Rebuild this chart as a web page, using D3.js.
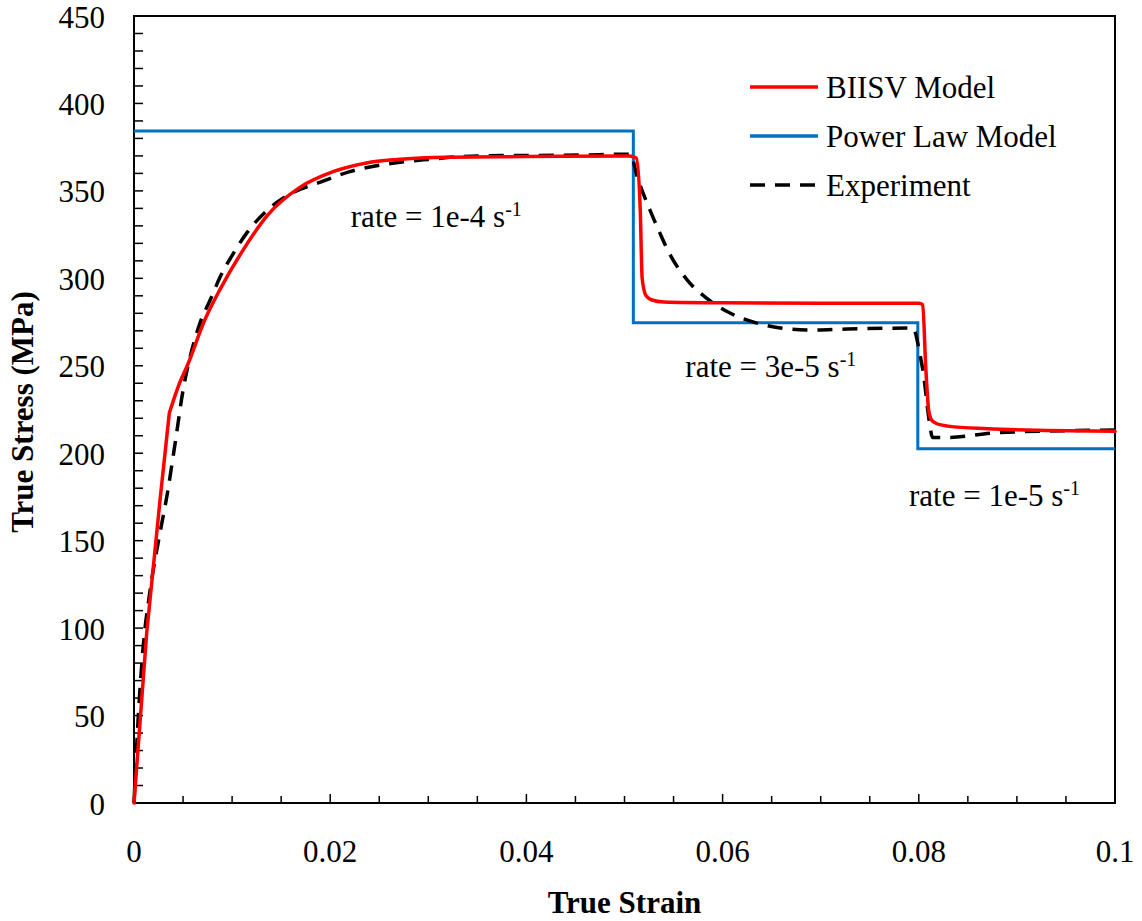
<!DOCTYPE html>
<html>
<head>
<meta charset="utf-8">
<script src="https://cdn.jsdelivr.net/npm/d3@7"></script>
<style>
  body { margin: 0; background: #fff; }
  text { font-family: "Liberation Serif", "Times New Roman", serif; }
</style>
</head>
<body>
<div id="chart"></div>
<script>
// BIISV model (red): elastic ramp, then smooth hardening / rate jumps
var biisvRampStrain = [0, 0.00129, 0.00265, 0.0036];
var biisvRampStress = [0, 97, 173, 223];
var biisvStrain = [0.0036, 0.0045, 0.0055, 0.0072, 0.0088, 0.0111, 0.0136, 0.0169, 0.0203, 0.0237, 0.0268, 0.032, 0.04, 0.0505, 0.0512, 0.0516, 0.0518, 0.0522, 0.0528, 0.054, 0.06, 0.07, 0.08, 0.0804, 0.0807, 0.081, 0.0813, 0.0818, 0.083, 0.087, 0.093, 0.1];
var biisvStress = [223, 238, 251, 276, 294, 316, 336, 352, 361, 366, 368, 369.3, 369.6, 370, 368.8, 340, 300, 290, 287.6, 286.5, 286, 285.8, 285.8, 285, 250, 225, 219, 217, 215.5, 214, 213, 212.5];

// Power law model (blue)
var powerStrain = [0, 0.0509, 0.0509, 0.0799, 0.0799, 0.1];
var powerStress = [384.2, 384.2, 274.6, 274.6, 202.6, 202.6];

// Experiment (black dashed)
var expStrain = [0, 0.0004, 0.0009, 0.0016, 0.0025, 0.0034, 0.0042, 0.005, 0.0059, 0.0067, 0.0078, 0.0088, 0.0101, 0.0115, 0.0136, 0.0162, 0.019, 0.022, 0.0254, 0.03, 0.035, 0.0455, 0.0506, 0.0513, 0.0526, 0.0536, 0.0546, 0.0564, 0.0584, 0.0608, 0.0635, 0.0659, 0.0692, 0.0727, 0.0794, 0.0801, 0.0806, 0.0808, 0.0811, 0.0814, 0.0832, 0.0873, 0.0934, 0.1];
var expStress = [0, 45.7, 87, 120, 150, 177, 206, 236, 259, 274, 288, 301, 314, 326, 339, 349, 355, 361, 365, 368, 370, 370.5, 371, 358, 339, 326, 314, 299, 288.5, 280, 274.4, 271.6, 270.4, 271, 271.6, 257, 240, 230, 217, 209, 209, 211.5, 212.7, 213.3];

var xTicks = [0, 0.02, 0.04, 0.06, 0.08, 0.1];
var xTickLabels = ["0", "0.02", "0.04", "0.06", "0.08", "0.1"];
var yTicks = [0, 50, 100, 150, 200, 250, 300, 350, 400, 450];

var legendNames = ["BIISV Model", "Power Law Model", "Experiment"];
var rateLabels = ["rate = 1e-4 s", "rate = 3e-5 s", "rate = 1e-5 s"];
var rateStrain = [0.0221, 0.0562, 0.0790];
var rateStress = [329.3, 243.6, 169.8];

var width = 1142, height = 921;
var margin = { left: 134, right: 27, top: 16, bottom: 118 };

var svg = d3.select('#chart').append('svg')
  .attr('width', width)
  .attr('height', height);

var x = d3.scaleLinear().domain([0, 0.1]).range([margin.left, width - margin.right]);
var y = d3.scaleLinear().domain([0, 450]).range([height - margin.bottom, margin.top]);

var x0 = x(0), x1 = x(0.1), y0 = y(0), y1 = y(450);

// minor ticks (inside)
var xMinor = d3.range(0, 0.1001, 0.005);
svg.append('g').selectAll('line').data(xMinor).enter().append('line')
  .attr('x1', d => x(d)).attr('x2', d => x(d))
  .attr('y1', y0).attr('y2', (d, i) => y0 - (i % 4 === 0 ? 9 : 7))
  .attr('stroke', '#000').attr('stroke-width', 1.5);

var yMinor = d3.range(0, 451, 10);
svg.append('g').selectAll('line').data(yMinor).enter().append('line')
  .attr('x1', x0).attr('x2', x0 + 9)
  .attr('y1', d => y(d)).attr('y2', d => y(d))
  .attr('stroke', '#000').attr('stroke-width', 1.5);

// frame
svg.append('rect')
  .attr('x', x0).attr('y', y1)
  .attr('width', x1 - x0).attr('height', y0 - y1)
  .attr('fill', 'none').attr('stroke', '#000').attr('stroke-width', 2);

// tick labels
svg.append('g').selectAll('text').data(xTicks).enter().append('text')
  .attr('x', d => x(d)).attr('y', 862)
  .attr('text-anchor', 'middle')
  .attr('font-size', 31)
  .text((d, i) => xTickLabels[i]);

svg.append('g').selectAll('text').data(yTicks).enter().append('text')
  .attr('x', x0 - 29).attr('y', d => y(d) + 11.5)
  .attr('text-anchor', 'end')
  .attr('font-size', 31)
  .text(d => d);

// axis titles
svg.append('text')
  .attr('x', (x0 + x1) / 2).attr('y', 913)
  .attr('text-anchor', 'middle')
  .attr('font-size', 31).attr('font-weight', 'bold')
  .text('True Strain');

svg.append('text')
  .attr('transform', 'translate(33,412) rotate(-90)')
  .attr('text-anchor', 'middle')
  .attr('font-size', 31).attr('font-weight', 'bold')
  .text('True Stress (MPa)');

// series
function pts(xs, ys) { return xs.map((d, i) => [d, ys[i]]); }

var smooth = d3.line().x(d => x(d[0])).y(d => y(d[1])).curve(d3.curveMonotoneX);
var straight = d3.line().x(d => x(d[0])).y(d => y(d[1]));

svg.append('path')
  .attr('d', straight(pts(powerStrain, powerStress)))
  .attr('fill', 'none').attr('stroke', '#0070c0').attr('stroke-width', 3);

svg.append('path')
  .attr('d', smooth(pts(expStrain, expStress)))
  .attr('fill', 'none').attr('stroke', '#000').attr('stroke-width', 3.5)
  .attr('stroke-dasharray', '15,10');

svg.append('path')
  .attr('d', straight(pts(biisvRampStrain, biisvRampStress)) + smooth(pts(biisvStrain, biisvStress)))
  .attr('fill', 'none').attr('stroke', '#ff0000').attr('stroke-width', 3.5)
  .attr('stroke-linecap', 'round').attr('stroke-linejoin', 'round');

// rate annotations
rateLabels.forEach(function(t, i) {
  var txt = svg.append('text')
    .attr('x', x(rateStrain[i])).attr('y', y(rateStress[i]))
    .attr('font-size', 31);
  txt.append('tspan').text(t);
  txt.append('tspan').attr('dy', -11).attr('font-size', 20).text('-1');
});

// legend
var legendColors = ['#ff0000', '#0070c0', '#000'];
var legendDash = [null, null, '15,10'];
var lg = svg.append('g');
legendNames.forEach(function(n, i) {
  var ly = 87 + i * 49;
  lg.append('line')
    .attr('x1', 750).attr('x2', 818).attr('y1', ly).attr('y2', ly)
    .attr('stroke', legendColors[i]).attr('stroke-width', 3.5)
    .attr('stroke-dasharray', legendDash[i]);
  lg.append('text')
    .attr('x', 826).attr('y', ly + 11)
    .attr('font-size', 31)
    .text(n);
});
</script>
</body>
</html>
